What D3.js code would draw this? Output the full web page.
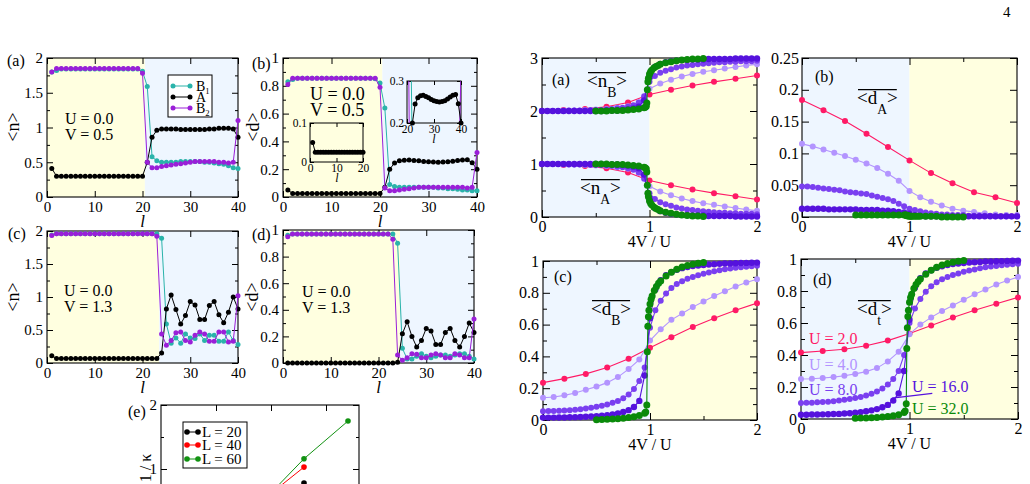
<!DOCTYPE html>
<html>
<head>
<meta charset="utf-8">
<script src="https://cdn.jsdelivr.net/npm/d3@7"></script>
<style>
  body { margin: 0; background: #fff; }
  svg { display: block; }
</style>
</head>
<body>
<script>
const FONT = "'Liberation Serif','Times New Roman',serif";
const YEL = "#ffffe0", BLU = "#eef6ff";
const cTeal = "#2ab3aa", cBlack = "#000000", cPurp = "#9a1fd8";
const uCol = {2: "#ff1a66", 4: "#b394ff", 8: "#7a3ff0", 16: "#5512dd", 32: "#0a8a0a"};

// ---------- left column: site profiles, l = 1..40
const sites = d3.range(1, 41);

// (a) <n>, U=0, V=0.5
const aB1 = [1.80,1.82,1.84,1.84,1.84,1.84,1.84,1.84,1.84,1.84,
             1.84,1.84,1.84,1.84,1.84,1.84,1.84,1.84,1.84,1.81,
             1.59,0.58,0.52,0.50,0.50,0.50,0.50,0.51,0.51,0.51,
             0.51,0.51,0.50,0.50,0.49,0.48,0.47,0.45,0.42,0.41];
const aA  = [0.41,0.30,0.30,0.30,0.30,0.30,0.30,0.30,0.30,0.30,
             0.30,0.30,0.30,0.30,0.30,0.30,0.30,0.30,0.30,0.30,
             0.50,0.86,0.96,0.98,0.98,0.98,0.98,0.97,0.97,0.97,
             0.97,0.97,0.97,0.98,0.98,0.99,0.99,0.99,0.98,0.86];
const aB2 = [1.80,1.85,1.85,1.85,1.85,1.85,1.85,1.85,1.85,1.85,
             1.85,1.85,1.85,1.85,1.85,1.85,1.85,1.85,1.85,1.78,
             0.50,0.42,0.42,0.44,0.45,0.46,0.47,0.48,0.49,0.50,
             0.51,0.51,0.51,0.51,0.51,0.50,0.50,0.49,0.50,1.10];

// (b) <d>, U=0, V=0.5
const bB1 = [0.83,0.845,0.855,0.855,0.855,0.855,0.855,0.855,0.855,0.855,
             0.855,0.855,0.855,0.855,0.855,0.855,0.855,0.855,0.85,0.82,
             0.64,0.09,0.075,0.07,0.07,0.07,0.07,0.07,0.07,0.07,
             0.07,0.065,0.065,0.06,0.06,0.055,0.05,0.05,0.045,0.045];
const bA  = [0.05,0.025,0.025,0.025,0.025,0.025,0.025,0.025,0.025,0.025,
             0.025,0.025,0.025,0.025,0.025,0.025,0.025,0.025,0.025,0.025,
             0.07,0.20,0.245,0.26,0.265,0.266,0.263,0.26,0.256,0.253,
             0.251,0.25,0.251,0.253,0.257,0.262,0.266,0.268,0.246,0.20];
const bB2 = [0.81,0.855,0.855,0.855,0.855,0.855,0.855,0.855,0.855,0.855,
             0.855,0.855,0.855,0.855,0.855,0.855,0.855,0.855,0.855,0.79,
             0.065,0.045,0.045,0.05,0.055,0.06,0.065,0.07,0.07,0.07,
             0.07,0.07,0.07,0.07,0.07,0.07,0.07,0.065,0.07,0.32];

// (c) <n>, U=0, V=1.3
const cB1 = [1.94,1.96,1.96,1.96,1.96,1.96,1.96,1.96,1.96,1.96,
             1.96,1.96,1.96,1.96,1.96,1.96,1.96,1.96,1.96,1.96,
             1.96,1.96,1.96,1.89,0.59,0.30,0.38,0.30,0.44,0.38,
             0.37,0.44,0.34,0.42,0.42,0.33,0.33,0.47,0.34,0.28];
const cA  = [0.11,0.07,0.07,0.07,0.07,0.07,0.07,0.07,0.07,0.07,
             0.07,0.07,0.07,0.07,0.07,0.07,0.07,0.07,0.07,0.07,
             0.07,0.07,0.07,0.15,0.82,1.03,0.81,0.59,0.72,0.93,
             0.88,0.66,0.66,0.87,0.93,0.73,0.61,0.77,1.00,0.82];
const cB2 = [1.93,1.96,1.96,1.96,1.96,1.96,1.96,1.96,1.96,1.96,
             1.96,1.96,1.96,1.96,1.96,1.96,1.96,1.96,1.96,1.96,
             1.96,1.96,1.92,0.44,0.27,0.34,0.46,0.47,0.34,0.32,
             0.42,0.47,0.44,0.33,0.33,0.47,0.47,0.32,0.33,1.02];

// (d) <d>, U=0, V=1.3
const dB1 = [0.96,0.97,0.97,0.97,0.97,0.97,0.97,0.97,0.97,0.97,
             0.97,0.97,0.97,0.97,0.97,0.97,0.97,0.97,0.97,0.97,
             0.97,0.97,0.97,0.90,0.11,0.03,0.03,0.05,0.07,0.05,
             0.04,0.05,0.06,0.06,0.05,0.06,0.07,0.07,0.05,0.03];
const dA  = [0,0,0,0,0,0,0,0,0,0,
             0,0,0,0,0,0,0,0,0,0,
             0,0,0,0.005,0.22,0.31,0.20,0.12,0.17,0.26,
             0.24,0.14,0.14,0.23,0.26,0.17,0.12,0.20,0.30,0.23];
const dB2 = [0.95,0.97,0.97,0.97,0.97,0.97,0.97,0.97,0.97,0.97,
             0.97,0.97,0.97,0.97,0.97,0.97,0.97,0.97,0.97,0.97,
             0.97,0.97,0.93,0.06,0.02,0.04,0.07,0.065,0.04,0.04,
             0.06,0.07,0.06,0.04,0.04,0.07,0.06,0.04,0.04,0.33];

// (e) 1/kappa
const eX = [1.8, 2.6, 3.4];
const e20 = [0.40, 0.78];
const e40 = [0.48, 1.03];
const e60 = [0.45, 1.16, 1.75];

// ---------- right column: averages vs 4V/U
const g2 = [0,0.2,0.4,0.6,0.8,1,1.2,1.4,1.6,1.8,2];
const g4 = d3.range(21).map(i => i / 10);
const g8 = d3.range(41).map(i => i / 20);
const g16 = g8;
const g32 = [0.5,0.55,0.6,0.65,0.7,0.75,0.8,0.85,0.9,0.95,
             0.96,0.97,0.975,0.98,0.985,0.99,1,1.01,1.02,1.04,1.06,1.08,1.1,
             1.15,1.2,1.25,1.3,1.35,1.4,1.45,1.5];
const grids = {2: g2, 4: g4, 8: g8, 16: g16, 32: g32};
const Us = [2, 4, 8, 16, 32];

const nB = {
  2: [2.00,2.02,2.04,2.08,2.16,2.31,2.40,2.48,2.55,2.61,2.67],
  4: [2.00,2.00,2.01,2.01,2.02,2.03,2.04,2.06,2.09,2.16,
      2.42,2.52,2.59,2.65,2.70,2.74,2.77,2.80,2.83,2.86,2.88],
  8: [2.00,2.00,2.00,2.00,2.00,2.01,2.01,2.01,2.01,2.02,
      2.02,2.02,2.03,2.04,2.05,2.06,2.08,2.11,2.16,2.28,
      2.55,2.66,2.72,2.76,2.79,2.82,2.84,2.86,2.87,2.88,
      2.89,2.90,2.91,2.92,2.92,2.93,2.93,2.94,2.94,2.94,2.95],
  16: [2.00,2.00,2.00,2.00,2.00,2.00,2.00,2.00,2.00,2.00,
       2.00,2.00,2.01,2.01,2.01,2.02,2.03,2.05,2.08,2.20,
       2.65,2.83,2.89,2.92,2.94,2.95,2.96,2.96,2.97,2.97,
       2.97,2.98,2.98,2.98,2.98,2.98,2.99,2.99,2.99,2.99,2.99],
  32: [2.00,2.00,2.00,2.01,2.01,2.01,2.02,2.03,2.04,2.06,
       2.07,2.09,2.15,2.40,2.55,2.62,2.70,2.74,2.77,2.81,2.84,2.86,2.88,
       2.91,2.93,2.95,2.96,2.97,2.98,2.98,2.99]
};
const nA = {
  2: [1.00,0.98,0.96,0.92,0.84,0.69,0.60,0.52,0.45,0.39,0.33],
  4: [1.00,1.00,0.99,0.99,0.98,0.97,0.96,0.94,0.91,0.84,
      0.58,0.48,0.41,0.35,0.30,0.26,0.23,0.20,0.17,0.14,0.12],
  8: [1.00,1.00,1.00,1.00,1.00,0.99,0.99,0.99,0.99,0.98,
      0.98,0.98,0.97,0.96,0.95,0.94,0.92,0.89,0.84,0.72,
      0.45,0.34,0.28,0.24,0.21,0.18,0.16,0.14,0.13,0.12,
      0.11,0.10,0.09,0.08,0.08,0.07,0.07,0.06,0.06,0.06,0.05],
  16: [1.00,1.00,1.00,1.00,1.00,1.00,1.00,1.00,1.00,1.00,
       1.00,1.00,0.99,0.99,0.99,0.98,0.97,0.95,0.92,0.80,
       0.35,0.17,0.11,0.08,0.06,0.05,0.04,0.04,0.03,0.03,
       0.03,0.02,0.02,0.02,0.02,0.02,0.01,0.01,0.01,0.01,0.01],
  32: [1.00,1.00,1.00,0.99,0.99,0.99,0.98,0.97,0.96,0.94,
       0.93,0.91,0.85,0.60,0.45,0.38,0.30,0.26,0.23,0.19,0.16,0.14,0.12,
       0.09,0.07,0.05,0.04,0.03,0.02,0.02,0.01]
};
const dAv = {
  2: [0.184,0.168,0.151,0.131,0.110,0.089,0.069,0.053,0.039,0.031,0.022],
  4: [0.115,0.111,0.106,0.101,0.096,0.090,0.084,0.077,0.068,0.057,
      0.041,0.031,0.024,0.018,0.013,0.010,0.008,0.006,0.004,0.003,0.003],
  8: [0.048,0.048,0.047,0.046,0.045,0.044,0.043,0.042,0.040,0.039,
      0.038,0.037,0.036,0.034,0.032,0.030,0.028,0.025,0.021,0.017,
      0.013,0.011,0.009,0.007,0.006,0.005,0.004,0.004,0.003,0.003,
      0.003,0.002,0.002,0.002,0.002,0.002,0.001,0.001,0.001,0.001,0.001],
  16: [0.013,0.013,0.013,0.013,0.013,0.012,0.012,0.012,0.012,0.012,
       0.012,0.011,0.011,0.011,0.011,0.010,0.010,0.009,0.008,0.007,
       0.005,0.003,0.002,0.001,0.001,0.001,0.001,0.001,0.001,0.001,
       0.001,0.001,0.001,0.001,0.001,0.001,0.001,0.001,0.001,0.001,0.001],
  32: [0.003,0.003,0.003,0.003,0.003,0.003,0.003,0.003,0.003,0.003,
       0.003,0.003,0.002,0.002,0.002,0.002,0.001,0.001,0.001,0.001,0.001,0.001,0.001,
       0.001,0.001,0.001,0,0,0,0,0]
};
const dBv = {
  2: [0.235,0.26,0.29,0.33,0.385,0.455,0.52,0.585,0.64,0.69,0.735],
  4: [0.14,0.145,0.155,0.17,0.19,0.21,0.235,0.27,0.32,0.38,
      0.50,0.57,0.63,0.67,0.71,0.745,0.78,0.81,0.84,0.865,0.885],
  8: [0.055,0.056,0.057,0.058,0.06,0.062,0.065,0.068,0.072,0.077,
      0.083,0.09,0.098,0.108,0.12,0.137,0.16,0.195,0.245,0.33,
      0.58,0.69,0.75,0.795,0.83,0.855,0.873,0.888,0.90,0.91,
      0.92,0.928,0.935,0.942,0.948,0.953,0.957,0.961,0.964,0.967,0.97],
  16: [0.015,0.015,0.015,0.016,0.016,0.017,0.018,0.019,0.02,0.022,
       0.024,0.027,0.03,0.035,0.041,0.05,0.062,0.082,0.12,0.28,
       0.64,0.82,0.88,0.91,0.93,0.945,0.955,0.962,0.968,0.972,
       0.975,0.978,0.98,0.982,0.984,0.985,0.986,0.987,0.988,0.989,0.99],
  32: [0.002,0.003,0.004,0.006,0.008,0.011,0.015,0.02,0.028,0.042,
       0.05,0.095,0.43,0.59,0.65,0.69,0.73,0.76,0.78,0.815,0.84,0.86,0.875,
       0.905,0.93,0.948,0.962,0.972,0.98,0.986,0.99]
};
const dTv = {
  2: [0.415,0.425,0.436,0.458,0.49,0.535,0.585,0.635,0.68,0.72,0.76],
  4: [0.25,0.252,0.256,0.262,0.27,0.282,0.296,0.318,0.36,0.42,
      0.53,0.59,0.635,0.675,0.71,0.745,0.78,0.81,0.84,0.865,0.887],
  8: [0.10,0.101,0.102,0.104,0.106,0.108,0.111,0.115,0.12,0.125,
      0.131,0.138,0.147,0.158,0.172,0.19,0.215,0.25,0.30,0.40,
      0.60,0.69,0.75,0.795,0.83,0.855,0.873,0.888,0.90,0.91,
      0.92,0.928,0.935,0.942,0.948,0.953,0.957,0.961,0.964,0.967,0.97],
  16: [0.027,0.027,0.028,0.028,0.029,0.030,0.031,0.032,0.034,0.036,
       0.039,0.043,0.048,0.054,0.062,0.073,0.088,0.115,0.16,0.30,
       0.62,0.82,0.88,0.91,0.93,0.945,0.955,0.962,0.968,0.972,
       0.975,0.978,0.98,0.982,0.984,0.985,0.986,0.987,0.988,0.989,0.99],
  32: [0.005,0.006,0.007,0.008,0.01,0.012,0.015,0.02,0.027,0.04,
       0.05,0.095,0.44,0.57,0.64,0.68,0.73,0.76,0.78,0.815,0.84,0.86,0.875,
       0.905,0.93,0.948,0.962,0.972,0.98,0.986,0.99]
};
const uRad = {2: 3, 4: 3, 8: 3, 16: 3.2, 32: 3.5};

// ---------- drawing helpers
const svg = d3.select("body").append("svg")
  .attr("width", 1030).attr("height", 484)
  .style("font-family", FONT);
svg.append("rect").attr("width", 1030).attr("height", 484).attr("fill", "#fff");
let clipN = 0;

function panel(o) {
  const x = d3.scaleLinear().domain(o.xd).range([o.x0, o.x1]);
  const y = d3.scaleLinear().domain(o.yd).range([o.y1, o.y0]);
  const g = svg.append("g");
  const cid = "clip" + (clipN++);
  svg.append("clipPath").attr("id", cid).append("rect")
    .attr("x", o.x0).attr("y", o.y0).attr("width", o.x1 - o.x0).attr("height", o.y1 - o.y0);
  (o.bg || []).forEach(b => {
    g.append("rect").attr("x", x(b[0])).attr("y", o.y0)
      .attr("width", x(b[1]) - x(b[0])).attr("height", o.y1 - o.y0)
      .attr("fill", b[2]);
  });
  const p = {x, y, g, o, cid};
  axes(p);
  g.append("rect").attr("x", o.x0).attr("y", o.y0)
    .attr("width", o.x1 - o.x0).attr("height", o.y1 - o.y0)
    .attr("fill", "none").attr("stroke", "#000").attr("stroke-width", o.sw || 1.1);
  return p;
}

function axes(p) {
  const {x, y, g, o} = p;
  const T = o.tl || 6, M = o.ml || 3, fs = o.fs || 15;
  const fmt = d => d;
  const style = s => {
    s.select(".domain").remove();
    s.attr("font-family", FONT).attr("font-size", fs);
    s.selectAll("line").attr("stroke", "#000");
    s.selectAll("text").attr("fill", "#000");
  };
  const put = (ax, tx, ty) => g.append("g").attr("transform", `translate(${tx},${ty})`).call(ax).call(style);
  put(d3.axisBottom(x).tickValues(o.xt).tickSize(-T).tickPadding(o.xpad || 4).tickFormat(o.noXl ? "" : fmt), 0, o.y1);
  put(d3.axisTop(x).tickValues(o.xt).tickSize(-T).tickFormat(""), 0, o.y0);
  put(d3.axisLeft(y).tickValues(o.yt).tickSize(-T).tickPadding(o.ypad || 4).tickFormat(fmt), o.x0, 0);
  put(d3.axisRight(y).tickValues(o.yt).tickSize(-T).tickFormat(""), o.x1, 0);
  if (o.xm) {
    put(d3.axisBottom(x).tickValues(o.xm).tickSize(-M).tickFormat(""), 0, o.y1);
    put(d3.axisTop(x).tickValues(o.xm).tickSize(-M).tickFormat(""), 0, o.y0);
  }
  if (o.ym) {
    put(d3.axisLeft(y).tickValues(o.ym).tickSize(-M).tickFormat(""), o.x0, 0);
    put(d3.axisRight(y).tickValues(o.ym).tickSize(-M).tickFormat(""), o.x1, 0);
  }
}

function series(p, xs, ys, col, r, lw, clip) {
  const pts = ys.map((v, i) => [xs[i], v]);
  const path = p.g.append("path")
    .attr("d", d3.line().x(d => p.x(d[0])).y(d => p.y(d[1]))(pts))
    .attr("fill", "none").attr("stroke", col).attr("stroke-width", lw);
  let dots = pts;
  if (clip) {
    path.attr("clip-path", `url(#${p.cid})`);
    const [a, b] = p.o.xd, [c, d] = p.o.yd;
    dots = pts.filter(q => q[0] >= a && q[0] <= b && q[1] >= c - 1e-9 && q[1] <= d + 1e-9);
  }
  p.g.append("g").selectAll("circle").data(dots).join("circle")
    .attr("cx", d => p.x(d[0])).attr("cy", d => p.y(d[1]))
    .attr("r", r).attr("fill", col);
}

function txt(x, y, s, o = {}) {
  return svg.append("text").attr("x", x).attr("y", y)
    .attr("font-size", o.fs || 15).attr("fill", o.fill || "#000")
    .attr("font-style", o.it ? "italic" : null)
    .attr("text-anchor", o.anchor || "start").text(s);
}

function subTxt(x, y, main, sub, o = {}) {
  const fs = o.fs || 15;
  const t = svg.append("text").attr("x", x).attr("y", y).attr("font-size", fs).attr("fill", o.fill || "#000");
  t.append("tspan").text(main);
  t.append("tspan").attr("font-size", fs * 0.62).attr("dy", fs * 0.22).text(sub);
  return t;
}

function barLabel(x, y, main, sub, fs) {
  const t = svg.append("text").attr("x", x).attr("y", y).attr("font-size", fs);
  t.append("tspan").text("<" + main);
  t.append("tspan").attr("font-size", fs * 0.72).attr("dy", fs * 0.55).text(sub);
  t.append("tspan").attr("dy", -fs * 0.55).text(">");
  const w = t.node().getComputedTextLength();
  svg.append("line").attr("x1", x + 1).attr("x2", x + w - 1)
    .attr("y1", y - fs * 0.76).attr("y2", y - fs * 0.76)
    .attr("stroke", "#000").attr("stroke-width", 1.2);
}

function yLabel(cx, cy, s, fs) {
  svg.append("text").attr("transform", `translate(${cx},${cy}) rotate(-90)`)
    .attr("text-anchor", "middle").attr("dy", "0.35em")
    .attr("font-size", fs).text(s);
}

// ---------- left column panels
const xtL = [0, 10, 20, 30, 40];
const ymN = [0.25, 0.75, 1.25, 1.75];
const ymD = [0.1, 0.3, 0.5, 0.7, 0.9];

const LA = panel({x0: 47, x1: 238, y0: 58, y1: 197, xd: [0, 40], yd: [0, 2],
  xt: xtL, yt: [0, 0.5, 1, 1.5, 2], ym: ymN, bg: [[0, 20.5, YEL], [20.5, 40, BLU]]});
series(LA, sites, aB1, cTeal, 2.5, 1);
series(LA, sites, aA, cBlack, 2.5, 1);
series(LA, sites, aB2, cPurp, 2.5, 1);

const LB = panel({x0: 283, x1: 477, y0: 58, y1: 197, xd: [0, 40], yd: [0, 1],
  xt: xtL, yt: [0, 0.2, 0.4, 0.6, 0.8, 1], ym: ymD, bg: [[0, 20.5, YEL], [20.5, 40, BLU]]});
series(LB, sites, bB1, cTeal, 2.5, 1);
series(LB, sites, bA, cBlack, 2.5, 1);
series(LB, sites, bB2, cPurp, 2.5, 1);

const I1 = panel({x0: 310, x1: 363, y0: 123, y1: 162, xd: [0, 20], yd: [0, 0.1],
  xt: [0, 10, 20], yt: [0, 0.1], fs: 11.5, tl: 4, xpad: 2, ypad: 3, sw: 1});
series(I1, sites, bB1, cTeal, 2.5, 1, true);
series(I1, sites, bB2, cPurp, 2.5, 1, true);
series(I1, sites, bA, cBlack, 2.5, 1, true);

const I2 = panel({x0: 407, x1: 461, y0: 81, y1: 123, xd: [20, 40], yd: [0.2, 0.3],
  xt: [20, 30, 40], yt: [0.2, 0.3], fs: 11.5, tl: 4, xpad: 2, ypad: 3, sw: 1});
series(I2, sites, bB1, cTeal, 2.5, 1, true);
series(I2, sites, bB2, cPurp, 2.5, 1, true);
series(I2, sites, bA, cBlack, 2.5, 1, true);

const LC = panel({x0: 47, x1: 238, y0: 231, y1: 363, xd: [0, 40], yd: [0, 2],
  xt: xtL, yt: [0, 0.5, 1, 1.5, 2], ym: ymN, bg: [[0, 23.5, YEL], [23.5, 40, BLU]]});
series(LC, sites, cB1, cTeal, 2.5, 1);
series(LC, sites, cA, cBlack, 2.5, 1);
series(LC, sites, cB2, cPurp, 2.5, 1);

const LD = panel({x0: 283, x1: 474, y0: 230, y1: 363, xd: [0, 40], yd: [0, 1],
  xt: xtL, yt: [0, 0.2, 0.4, 0.6, 0.8, 1], ym: ymD, bg: [[0, 24.5, YEL], [24.5, 40, BLU]]});
series(LD, sites, dB1, cTeal, 2.5, 1);
series(LD, sites, dA, cBlack, 2.5, 1);
series(LD, sites, dB2, cPurp, 2.5, 1);

const LE = panel({x0: 161, x1: 359, y0: 405, y1: 533, xd: [0, 3.6], yd: [0, 2],
  xt: [1, 2, 3], yt: [1, 2], ym: [1.5], noXl: true});
series(LE, eX, e20, "#000", 2.8, 1);
series(LE, eX, e40, "#ff0000", 2.8, 1);
series(LE, eX, e60, "#129212", 2.8, 1);

// left texts
txt(7, 66, "(a)", {fs: 16});
txt(252, 69, "(b)", {fs: 16});
txt(8, 239, "(c)", {fs: 16});
txt(252, 240, "(d)", {fs: 16});
txt(128, 417, "(e)", {fs: 16});
yLabel(13, 127, "<n>", 18);
yLabel(253, 127, "<d>", 18);
yLabel(13, 297, "<n>", 18);
yLabel(252, 297, "<d>", 18);
yLabel(145, 468, "1 / κ", 16);
txt((47 + 238) / 2, 227, "l", {fs: 17, it: true, anchor: "middle"});
txt((283 + 477) / 2, 227, "l", {fs: 17, it: true, anchor: "middle"});
txt((47 + 238) / 2, 393, "l", {fs: 17, it: true, anchor: "middle"});
txt((283 + 474) / 2, 393, "l", {fs: 17, it: true, anchor: "middle"});
txt(337, 182, "l", {fs: 12, it: true, anchor: "middle"});
txt(434, 143, "l", {fs: 12, it: true, anchor: "middle"});

txt(65, 124, "U = 0.0", {fs: 16});
txt(65, 140, "V = 0.5", {fs: 16});
txt(310, 100, "U = 0.0", {fs: 18});
txt(310, 116, "V = 0.5", {fs: 18});
txt(64, 296, "U = 0.0", {fs: 16});
txt(64, 312, "V = 1.3", {fs: 16});
txt(302, 297, "U = 0.0", {fs: 16});
txt(302, 313, "V = 1.3", {fs: 16});

// legend (a)
const legA = [["1", cTeal, 86], ["", cBlack, 97], ["2", cPurp, 108]];
svg.append("rect").attr("x", 168).attr("y", 75).attr("width", 44).attr("height", 42)
  .attr("fill", "#fff").attr("stroke", "#000").attr("stroke-width", 1);
legA.forEach(([s, c, yy]) => {
  svg.append("line").attr("x1", 173).attr("x2", 190).attr("y1", yy).attr("y2", yy).attr("stroke", c);
  [173, 190].forEach(cx => svg.append("circle").attr("cx", cx).attr("cy", yy).attr("r", 2.5).attr("fill", c));
  if (s) subTxt(196, yy + 4.5, "B", s, {fs: 14});
  else txt(196, yy + 4.5, "A", {fs: 14});
});

// legend (e)
const legE = [["L = 20", "#000", 432], ["L = 40", "#ff0000", 445], ["L = 60", "#129212", 459]];
svg.append("rect").attr("x", 183).attr("y", 422).attr("width", 64).attr("height", 46)
  .attr("fill", "#fff").attr("stroke", "#000").attr("stroke-width", 1);
legE.forEach(([s, c, yy]) => {
  svg.append("line").attr("x1", 187).attr("x2", 198).attr("y1", yy).attr("y2", yy).attr("stroke", c);
  [187, 198].forEach(cx => svg.append("circle").attr("cx", cx).attr("cy", yy).attr("r", 2.8).attr("fill", c));
  txt(202, yy + 5, s, {fs: 15});
});

// ---------- right column panels
const rOpt = {xd: [0, 2], xt: [0, 1, 2], xm: [0.5, 1.5], fs: 16, tl: 7, ml: 4,
  bg: [[0, 1, BLU], [1, 2, YEL]]};

const RA = panel(Object.assign({}, rOpt, {x0: 542, x1: 757, y0: 58, y1: 217, yd: [0, 3],
  yt: [0, 1, 2, 3], ym: [0.5, 1.5, 2.5]}));
const RB = panel(Object.assign({}, rOpt, {x0: 802, x1: 1017, y0: 58, y1: 217, yd: [0, 0.25],
  yt: [0, 0.05, 0.1, 0.15, 0.2, 0.25], ypad: 3}));
const RC = panel(Object.assign({}, rOpt, {x0: 543, x1: 757, y0: 261, y1: 420, yd: [0, 1],
  yt: [0, 0.2, 0.4, 0.6, 0.8, 1], ym: [0.1, 0.3, 0.5, 0.7, 0.9]}));
const RD = panel(Object.assign({}, rOpt, {x0: 801, x1: 1018, y0: 259, y1: 419, yd: [0, 1],
  yt: [0, 0.2, 0.4, 0.6, 0.8, 1], ym: [0.1, 0.3, 0.5, 0.7, 0.9]}));

Us.forEach(u => {
  series(RA, grids[u], nB[u], uCol[u], uRad[u], 1.1);
  series(RA, grids[u], nA[u], uCol[u], uRad[u], 1.1);
  series(RB, grids[u], dAv[u], uCol[u], uRad[u], 1.1);
  series(RC, grids[u], dBv[u], uCol[u], uRad[u], 1.1);
  series(RD, grids[u], dTv[u], uCol[u], uRad[u], 1.1);
});

[RA, RB, RC, RD].forEach(p => {
  txt((p.o.x0 + p.o.x1) / 2, p.o.y1 + 30, "4V / U", {fs: 16, anchor: "middle"});
});

txt(552, 85, "(a)", {fs: 16});
txt(815, 82, "(b)", {fs: 16});
txt(554, 282, "(c)", {fs: 16});
txt(813, 285, "(d)", {fs: 16});

barLabel(587, 87, "n", "B", 19);
barLabel(580, 194, "n", "A", 19);
barLabel(857, 104, "d", "A", 19);
barLabel(591, 315, "d", "B", 19);
barLabel(857, 315, "d", "t", 19);

// U labels in (d)
txt(809, 344, "U = 2.0", {fs: 16, fill: uCol[2]});
txt(809, 370, "U = 4.0", {fs: 16, fill: uCol[4]});
txt(809, 395, "U = 8.0", {fs: 16, fill: uCol[8]});
txt(912, 392, "U = 16.0", {fs: 16, fill: uCol[16]});
txt(912, 414, "U = 32.0", {fs: 16, fill: uCol[32]});
svg.append("line")
  .attr("x1", RD.x(0.84)).attr("y1", RD.y(0.13))
  .attr("x2", RD.x(1.21)).attr("y2", RD.y(0.16))
  .attr("stroke", uCol[16]).attr("stroke-width", 1.2);

// page number
txt(1003, 17, "4", {fs: 15});
</script>
</body>
</html>
